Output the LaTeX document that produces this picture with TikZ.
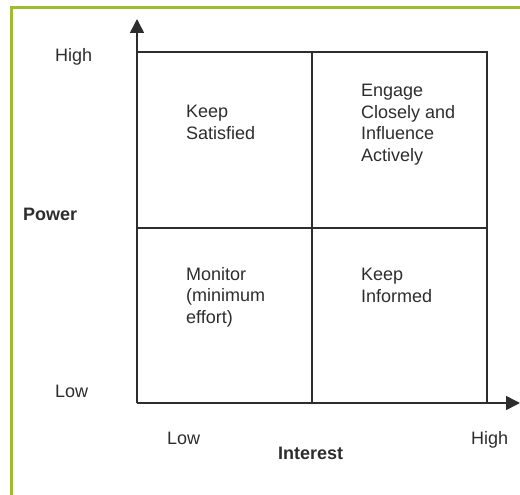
\documentclass[tikz,border=0pt]{standalone}
\usepackage{fontspec}
\setmainfont{Liberation Sans}
\usetikzlibrary{arrows.meta}
\definecolor{framegreen}{RGB}{158,188,48}
\definecolor{ink}{RGB}{45,45,45}
\begin{document}
\begin{tikzpicture}[x=1pt,y=-1pt,
  txt/.style={anchor=north west, inner sep=0pt, align=left, text=ink,
              font=\fontsize{18}{21.7}\selectfont},
  bold/.style={txt, font=\fontsize{18}{21.7}\selectfont\bfseries},
  gridline/.style={draw=ink, line width=1.6pt},
  axis/.style={gridline, -{Triangle[length=14pt,width=14pt]}}]
\useasboundingbox (0,0) rectangle (520,495);
% frame
\draw[framegreen, line width=3pt] (11,497) -- (11,8) -- (522,8);
% coordinates
\coordinate (O) at (137,403);
\coordinate (ytip) at (137,19);
\coordinate (xtip) at (520,403);
\coordinate (TL) at (137,52);
\coordinate (TM) at (312,52);
\coordinate (TR) at (487,52);
\coordinate (ML) at (137,228);
\coordinate (MR) at (487,228);
\coordinate (BM) at (312,403);
\coordinate (BR) at (487,403);
% grid
\draw[gridline] (TL) -- (TR) -- (BR);
\draw[gridline] (TM) -- (BM);
\draw[gridline] (ML) -- (MR);
% axes
\draw[axis] (O) -- (ytip);
\draw[axis] (O) -- (xtip);
% axis labels
\node[txt] (yhigh) at (55,48) {High};
\node[txt] (ylow) at (55,385) {Low};
\node[bold] (power) at (23,208) {Power};
\node[txt] (xlow) at (167,432) {Low};
\node[bold] (interest) at (278,447) {Interest};
\node[txt] (xhigh) at (471,431) {High};
% quadrant texts
\node[txt] (q1) at (186,105) {Keep\\Satisfied};
\node[txt] (q2) at (361,84) {Engage\\Closely and\\Influence\\Actively};
\node[txt] (q3) at (186,267) {Monitor\\(minimum\\effort)};
\node[txt] (q4) at (361,268) {Keep\\Informed};
\end{tikzpicture}
\end{document}
